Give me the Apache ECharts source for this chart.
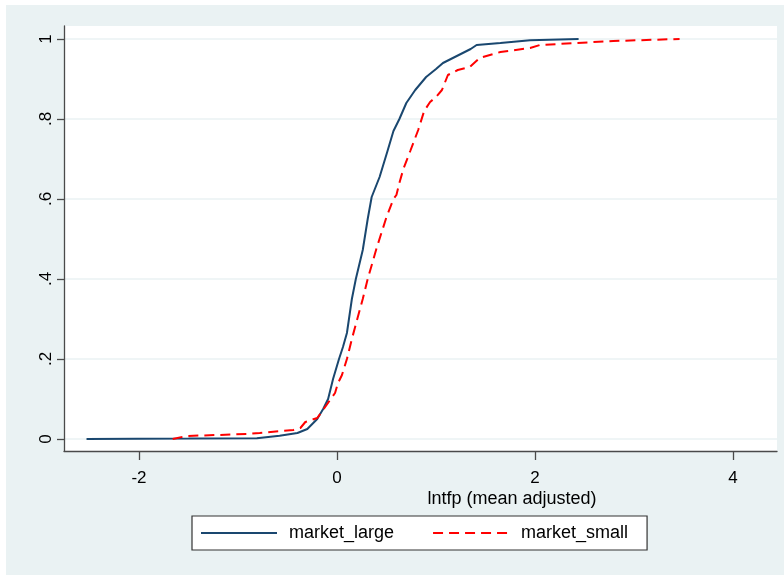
<!DOCTYPE html>
<html>
<head>
<meta charset="utf-8">
<script src="https://cdn.jsdelivr.net/npm/echarts@6/dist/echarts.min.js"></script>
<style>
html,body{margin:0;padding:0;background:#fff;}
#chart{width:784px;height:575px;}
</style>
</head>
<body>
<div id="chart"></div>
<script>
var largeX = [-2.53, -1.5, -0.81, -0.58, -0.40, -0.30, -0.20, -0.14, -0.09, -0.04, 0.02, 0.06, 0.10, 0.15, 0.19, 0.26, 0.31, 0.35, 0.43, 0.51, 0.57, 0.63, 0.70, 0.79, 0.90, 1.00, 1.07, 1.15, 1.27, 1.35, 1.41, 1.65, 1.95, 2.44];
var largeY = [0.0, 0.001, 0.002, 0.008, 0.015, 0.025, 0.05, 0.075, 0.10, 0.15, 0.20, 0.23, 0.265, 0.35, 0.40, 0.4725, 0.55, 0.605, 0.655, 0.72, 0.77, 0.80, 0.84, 0.8725, 0.905, 0.925, 0.94, 0.95, 0.965, 0.975, 0.985, 0.99, 0.997, 1.0];
var smallX = [-1.66, -1.52, -0.91, -0.78, -0.44, -0.37, -0.32, -0.20, -0.12, -0.02, 0.01, 0.05, 0.10, 0.15, 0.21, 0.26, 0.31, 0.40, 0.50, 0.57, 0.60, 0.63, 0.67, 0.74, 0.82, 0.88, 0.94, 1.00, 1.06, 1.12, 1.22, 1.34, 1.44, 1.65, 1.95, 2.05, 2.42, 2.79, 3.46];
var smallY = [0.0, 0.0075, 0.0125, 0.015, 0.0225, 0.0275, 0.0425, 0.0525, 0.08, 0.115, 0.14, 0.16, 0.20, 0.25, 0.305, 0.35, 0.40, 0.4775, 0.555, 0.60, 0.61, 0.64, 0.675, 0.72, 0.7725, 0.82, 0.8425, 0.855, 0.8725, 0.91, 0.9225, 0.93, 0.9525, 0.9675, 0.9775, 0.985, 0.99, 0.995, 1.0];
var xTicks = [-2, 0, 2, 4];
var yTicks = [0, 0.2, 0.4, 0.6, 0.8, 1];
var seriesNames = ['market_large', 'market_small'];
var xTitle = 'lntfp (mean adjusted)';

function pairs(xs, ys) { return xs.map(function (x, i) { return [x, ys[i]]; }); }
function yFmt(v) {
  if (Math.abs(v) < 1e-9) return '0';
  if (Math.abs(v - 1) < 1e-9) return '1';
  return String(Math.round(v * 10) / 10).replace(/^0/, '');
}

var chart = echarts.init(document.getElementById('chart'), null, {renderer: 'canvas'});
var FONT = 'Liberation Sans, Arial, sans-serif';
var axisColor = '#4a4a4a';

chart.setOption({
  backgroundColor: '#ffffff',
  animation: false,
  graphic: [
    {type: 'rect', z: -10, silent: true, shape: {x: 6, y: 5, width: 778, height: 570}, style: {fill: '#eaf2f3'}},
    {type: 'text', z: 10, x: 512, y: 499, style: {text: xTitle, font: '18px ' + FONT, fill: '#000', align: 'center', verticalAlign: 'middle'}}
  ],
  grid: {left: 64, top: 26, width: 713, height: 425, show: true, backgroundColor: '#ffffff', borderWidth: 0, containLabel: false},
  xAxis: {
    type: 'value', min: -2.7576, max: 4.444,
    axisLine: {show: true, onZero: false, lineStyle: {color: axisColor, width: 1.3}},
    axisTick: {show: true, length: 9, customValues: xTicks, lineStyle: {color: axisColor, width: 1.3}},
    axisLabel: {show: true, customValues: xTicks, margin: 19, color: '#000', fontSize: 17, fontFamily: FONT, formatter: function (v) { return String(v); }},
    splitLine: {show: false}
  },
  yAxis: {
    type: 'value', min: -0.03, max: 1.0325,
    axisLine: {show: true, onZero: false, lineStyle: {color: axisColor, width: 1.3}},
    axisTick: {show: true, length: 7, customValues: yTicks, lineStyle: {color: axisColor, width: 1.3}},
    axisLabel: {show: true, customValues: yTicks, rotate: 90, margin: 9, color: '#000', fontSize: 17, fontFamily: FONT, formatter: yFmt},
    splitLine: {show: false}
  },
  legend: {
    show: true, left: 192, top: 516, orient: 'horizontal',
    padding: [8, 19, 8, 8], itemGap: 38, itemWidth: 76, itemHeight: 14,
    backgroundColor: '#ffffff', borderColor: '#333', borderWidth: 1.2, borderRadius: 0,
    itemStyle: {opacity: 0},
    textStyle: {color: '#000', fontSize: 18, fontFamily: FONT, padding: [0, 0, 0, 7]},
    data: seriesNames
  },
  series: [
    {
      name: '__grid', type: 'line', data: [], silent: true, z: 0,
      markLine: {silent: true, z: 0, symbol: ['none', 'none'], label: {show: false},
        lineStyle: {color: '#eaf2f3', width: 1.5, type: 'solid'},
        data: yTicks.map(function (v) { return {yAxis: v}; })}
    },
    {
      name: seriesNames[0], type: 'line', data: pairs(largeX, largeY), showSymbol: false, symbol: 'none', z: 5,
      lineStyle: {color: '#1a476f', width: 2, type: 'solid'}, itemStyle: {color: '#1a476f'}
    },
    {
      name: seriesNames[1], type: 'line', data: pairs(smallX, smallY), showSymbol: false, symbol: 'none', z: 6,
      lineStyle: {color: '#ff0000', width: 2, type: [10, 6]}, itemStyle: {color: '#ff0000'}
    }
  ]
});
</script>
</body>
</html>
